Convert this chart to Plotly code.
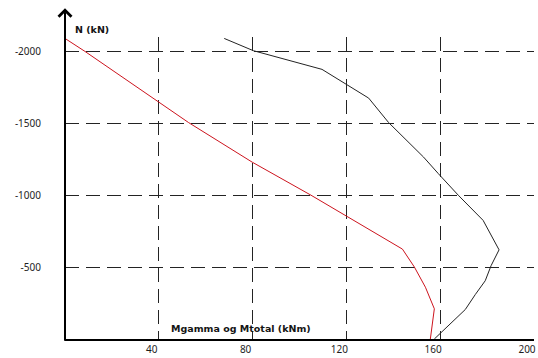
import plotly.graph_objects as go

# Moment curves along the column: N (kN) against moment (kNm)
n_mgamma = [-2090, -2000, -1505, -1230, -1000, -625, -500, -360, -210, 0]
mgamma = [0, 8.5, 52.7, 79.8, 104.9, 143.9, 149.0, 153.7, 157.5, 155.8]

n_mtotal = [-2090, -2005, -1875, -1675, -1505, -1265, -1150, -1000, -825,
            -620, -510, -405, -310, -205, 0]
mtotal = [67.9, 80.3, 109.6, 129.5, 138.0, 152.9, 159.2, 167.7, 178.3,
          185.1, 181.7, 179.2, 175.0, 170.7, 157.5]

x_ticks = [40, 80, 120, 160, 200]
y_ticks = [-2000, -1500, -1000, -500]

x_title = "Mgamma og Mtotal (kNm)"
y_title = "N (kN)"

fig = go.Figure()
fig.add_trace(go.Scatter(x=mgamma, y=n_mgamma, mode="lines",
                         line=dict(color="rgb(205,20,30)", width=1),
                         name="Mgamma", hoverinfo="x+y"))
fig.add_trace(go.Scatter(x=mtotal, y=n_mtotal, mode="lines",
                         line=dict(color="rgb(35,35,35)", width=1),
                         name="Mtotal", hoverinfo="x+y"))

grid = dict(showgrid=True, gridcolor="rgb(35,35,35)", gridwidth=1,
            griddash="14px,7px", zeroline=False, ticks="",
            tickfont=dict(family="Noto Sans", size=10, color="rgb(30,30,30)"))

fig.update_layout(
    width=538, height=358,
    margin=dict(l=65, r=2, t=37, b=16),
    paper_bgcolor="white", plot_bgcolor="white",
    showlegend=False,
    xaxis=dict(range=[0, 200], tickvals=x_ticks, ticktext=[str(v) for v in x_ticks],
               showline=True, linecolor="black", linewidth=2,
               ticklabelshift=-7, ticklabelstandoff=0, **grid),
    yaxis=dict(range=[0, -2100], tickvals=y_ticks, ticktext=[str(v) for v in y_ticks],
               showline=False, ticklabelstandoff=23, **grid),
)

# Vertical axis drawn as an arrow running past the top of the plot
fig.add_annotation(x=0, xref="x", y=1.095, yref="paper", text="",
                   showarrow=True, ax=0, ay=334, axref="pixel", ayref="pixel",
                   arrowhead=4, arrowsize=1.25, arrowwidth=2, arrowcolor="black",
                   standoff=0, startstandoff=0)

fig.add_annotation(x=0.017, xref="paper", y=1.026, yref="paper", text=f"<b>{y_title}</b>",
                   showarrow=False, xanchor="left", yanchor="middle",
                   font=dict(family="DejaVu Sans", size=9.5, color="rgb(20,20,20)"))
fig.add_annotation(x=0.376, xref="paper", y=0.036, yref="paper", text=f"<b>{x_title}</b>",
                   showarrow=False, xanchor="center", yanchor="middle",
                   font=dict(family="DejaVu Sans", size=9.5, color="rgb(20,20,20)"))

fig.write_html("out.html")
